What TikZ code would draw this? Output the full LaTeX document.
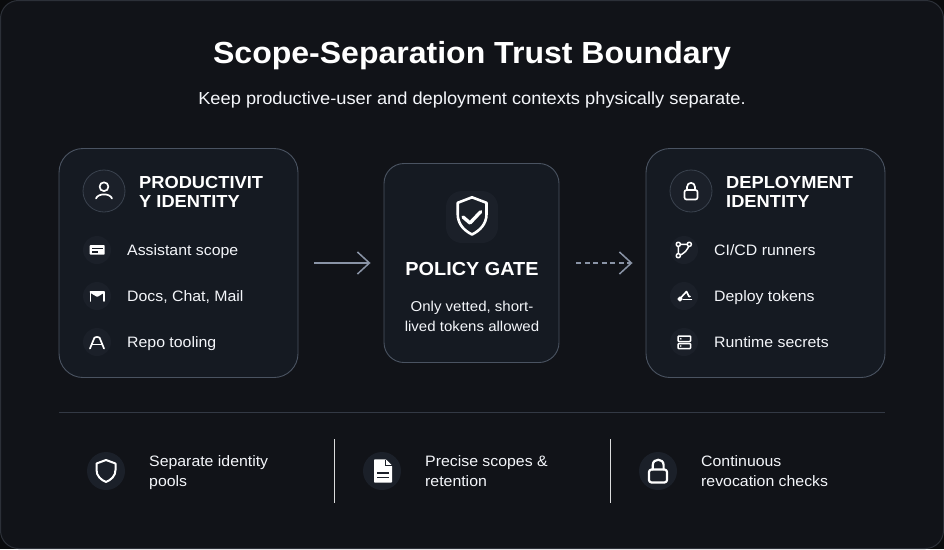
\documentclass[tikz,border=0pt]{standalone}
\usepackage{fontspec}
\setmainfont[FakeStretch=1.05]{Liberation Sans}
\usetikzlibrary{arrows.meta}

\definecolor{pagebg}{HTML}{0A0B0D}
\definecolor{panelbg}{HTML}{111318}
\definecolor{panelline}{HTML}{2C3038}
\definecolor{cardbg}{HTML}{151A22}
\definecolor{cardline}{HTML}{4A5361}
\definecolor{discbg}{HTML}{1B2029}
\definecolor{arrowgray}{HTML}{8A94A6}
\definecolor{inktext}{HTML}{F4F6FA}

\tikzset{
  card/.style={draw=cardline, fill=cardbg, line width=.9pt, inner sep=0pt},
  headdisc/.style={circle, draw=cardline!70!cardbg, fill=discbg, line width=.8pt, minimum size=42pt, inner sep=0pt},
  itemdisc/.style={circle, fill=discbg, minimum size=28pt, inner sep=0pt},
  footdisc/.style={circle, fill=discbg, minimum size=38pt, inner sep=0pt},
  headtext/.style={anchor=base west, align=left, text=white, font=\bfseries\fontsize{17.4}{19.4}\selectfont, inner sep=0pt},
  itemtext/.style={anchor=base west, text=inktext, font=\fontsize{15.1}{20}\selectfont, inner sep=0pt},
  foottext/.style={anchor=base west, align=left, text=inktext, font=\fontsize{15.1}{20}\selectfont, inner sep=0pt},
  flowarrow/.style={arrowgray, line width=1.5pt, -{Straight Barb[length=12pt,width=22pt,line width=1.5pt]}},
  icon/.style={draw=white, line width=1.7pt, line cap=round, line join=round},
  iconfill/.style={fill=white},
  iconcut/.style={draw=cardbg, line width=1.2pt}
}

\begin{document}
\begin{tikzpicture}[x=1pt,y=-1pt]
\useasboundingbox (0,0) rectangle (944,549);

% panel
\fill[pagebg] (0,0) rectangle (944,549);
\draw[panelline, fill=panelbg, line width=1pt, rounded corners=18pt] (.5,.5) rectangle (943.5,548.5);

% heading
\node (title) [anchor=base, inner sep=0pt, text=white, font=\bfseries\fontsize{30.5}{34}\selectfont] at (472,63.5) {Scope-Separation Trust Boundary};
\node (subtitle) [anchor=base, inner sep=0pt, text=inktext, font=\fontsize{17.4}{20}\selectfont] at (472,104) {Keep productive-user and deployment contexts physically separate.};

% cards
\node (prodcard) [card, rounded corners=24pt, minimum width=239pt, minimum height=229pt] at (178.5,263) {};
\node (gatecard) [card, rounded corners=20pt, minimum width=175pt, minimum height=199pt] at (471.5,263) {};
\node (deploycard) [card, rounded corners=24pt, minimum width=239pt, minimum height=229pt] at (765.5,263) {};

% arrows
\draw[flowarrow, shorten <=16pt, shorten >=13pt] (prodcard.east) -- (gatecard.west);
\draw[flowarrow, dash pattern=on 5pt off 3.5pt, shorten <=17pt, shorten >=13pt] (gatecard.east) -- (deploycard.west);

% productivity card
\node (proddisc) [headdisc] at (104,191) {};
\node (prodhead) [headtext] at (139,207.7) {PRODUCTIVIT\\Y IDENTITY};
\node (assistdisc) [itemdisc] at (97,250) {};
\node (docsdisc) [itemdisc] at (97,296) {};
\node (repodisc) [itemdisc] at (97,342) {};
\node (assisttext) [itemtext] at (127,255) {Assistant scope};
\node (docstext) [itemtext] at (127,301) {Docs, Chat, Mail};
\node (repotext) [itemtext] at (127,347) {Repo tooling};

\draw[icon] (104,186.7) circle (4.4pt);
\draw[icon] (96,198.5) .. controls (98,193) and (110,193) .. (112,198.5);

\fill[iconfill, rounded corners=.8pt] (89.7,245) rectangle (104.7,254.6);
\draw[iconcut] (92,248.3) -- (102.5,248.3);
\draw[iconcut] (92,252) -- (98,252);

\draw[icon, fill=white] (90.5,292) -- (103.8,292) -- (97.2,296) -- cycle;
\draw[icon] (90.5,292) -- (90.5,301);
\draw[icon] (103.8,292) -- (103.8,301);

\draw[icon] (90,348.5) -- (94.3,338) .. controls (94.9,336.7) and (99.1,336.7) .. (99.7,338) -- (104,348.5);
\draw[icon] (92,344.5) -- (102,344.5);

% gate card
\node (shieldbox) [fill=discbg, rounded corners=16pt, minimum size=52pt, inner sep=0pt] at (472,217) {};
\node (gatehead) [anchor=base, inner sep=0pt, text=white, font=\bfseries\fontsize{18.9}{22}\selectfont] at (472,275.7) {POLICY GATE};
\node (gatetext) [anchor=base, inner sep=0pt, align=center, text=inktext, font=\fontsize{14.3}{20}\selectfont] at (472,331.7) {Only vetted, short-\\lived tokens allowed};

\draw[icon, line width=2.6pt] (472,197.3) -- (486.5,202.8) -- (486.5,214) .. controls (486.5,224) and (480,230.5) .. (472,234.5) .. controls (464,230.5) and (457.7,224) .. (457.7,214) -- (457.7,202.8) -- cycle;
\draw[icon, line width=3.4pt] (463,217) -- (470,223) -- (480.7,211.7);

% deployment card
\node (deploydisc) [headdisc] at (691,191) {};
\node (deployhead) [headtext] at (726,207.7) {DEPLOYMENT\\IDENTITY};
\node (cicddisc) [itemdisc] at (684,250) {};
\node (tokendisc) [itemdisc] at (684,296) {};
\node (secretdisc) [itemdisc] at (684,342) {};
\node (cicdtext) [itemtext] at (714,255) {CI/CD runners};
\node (tokentext) [itemtext] at (714,301) {Deploy tokens};
\node (secrettext) [itemtext] at (714,347) {Runtime secrets};

\draw[icon, rounded corners=2pt] (684.5,190) rectangle (697.5,199.5);
\draw[icon] (687,190) -- (687,187) .. controls (687,181.5) and (695,181.5) .. (695,187) -- (695,190);

\draw[icon, line width=1.5pt] (678.3,244.3) -- (689.3,244.3) .. controls (688,250) and (684,254) .. (678.3,255.7) -- cycle;
\draw[icon, line width=1.5pt, fill=discbg] (678.3,244.3) circle (2.1pt);
\draw[icon, line width=1.5pt, fill=discbg] (689.3,244.3) circle (2.1pt);
\draw[icon, line width=1.5pt, fill=discbg] (678.3,255.7) circle (2.1pt);

\draw[icon, line width=1.5pt, fill=white] (680,299) circle (1.8pt);
\draw[icon, line width=1.6pt] (681,297.5) -- (686.5,291.5) -- (689,296.5) -- (690,296.5);
\draw[icon, line width=1.3pt] (683,299.7) -- (691.5,299.7);

\draw[icon, line width=1.5pt, rounded corners=1pt] (678,336) rectangle (690.7,341.5);
\draw[icon, line width=1.5pt, rounded corners=1pt] (678,343.5) rectangle (690.7,348.7);
\fill[white] (680.8,338.8) circle (.9pt);
\fill[white] (680.8,346) circle (.9pt);

% footer
\draw[cardline!60!panelbg, line width=1pt] (59,412.5) -- (885,412.5);

\node (pooldisc) [footdisc] at (106,471) {};
\node (scopedisc) [footdisc] at (382,471) {};
\node (revokedisc) [footdisc] at (658,471) {};
\node (pooltext) [foottext] at (149,486.7) {Separate identity\\pools};
\node (scopetext) [foottext] at (425,486.7) {Precise scopes \&\\retention};
\node (revoketext) [foottext] at (701,486.7) {Continuous\\revocation checks};

\draw[icon, line width=2pt] (106,460) -- (115.5,463.5) -- (115.5,470) .. controls (115.5,476) and (111,480) .. (106,482) .. controls (101,480) and (96.5,476) .. (96.5,470) -- (96.5,463.5) -- cycle;

\fill[iconfill, rounded corners=.8pt] (374,459.3) -- (386,459.3) -- (392,465.5) -- (392,482.7) -- (374,482.7) -- cycle;
\draw[discbg, line width=1pt] (385.5,459.5) -- (385.5,465.8) -- (391.5,465.8);
\draw[discbg, line width=1.4pt] (377,473) -- (389,473);
\draw[discbg, line width=1.4pt] (377,477.5) -- (389,477.5);

\draw[icon, line width=2.2pt, rounded corners=2.5pt] (649,469.5) rectangle (667,482.5);
\draw[icon, line width=2.2pt] (652.8,469.5) -- (652.8,465) .. controls (652.8,458) and (663.6,458) .. (663.6,465) -- (663.6,469.5);

\draw[white!85!panelbg, line width=1pt] (334.5,439) -- (334.5,503);
\draw[white!85!panelbg, line width=1pt] (610.5,439) -- (610.5,503);

\end{tikzpicture}
\end{document}
